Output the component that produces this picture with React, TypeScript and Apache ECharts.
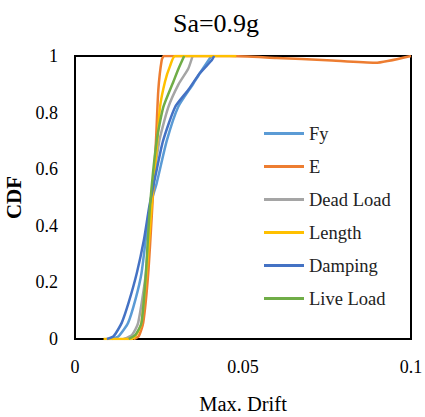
import React, { useEffect, useRef } from "react";
import * as echarts from "echarts";

const seriesNames = ["Fy", "E", "Dead Load", "Length", "Damping", "Live Load"];
const seriesColors = ["#5B9BD5", "#ED7D31", "#A5A5A5", "#FFC000", "#4472C4", "#70AD47"];

const fyData = [[0.011, 0], [0.013, 0.01], [0.0158, 0.057], [0.018, 0.14], [0.0198, 0.233], [0.0223, 0.467], [0.0243, 0.55], [0.0273, 0.7], [0.0307, 0.82], [0.0351, 0.9], [0.0372, 0.94], [0.0406, 1]];
const eData = [[0.0175, 0], [0.019, 0.01], [0.0203, 0.057], [0.0218, 0.233], [0.023, 0.467], [0.0241, 0.7], [0.0248, 0.88], [0.0258, 0.985], [0.0265, 1], [0.046, 1], [0.06, 0.993], [0.075, 0.985], [0.0893, 0.976], [0.1, 1]];
const deadLoadData = [[0.0145, 0], [0.017, 0.015], [0.0188, 0.057], [0.0211, 0.233], [0.0225, 0.467], [0.0251, 0.7], [0.0278, 0.82], [0.0308, 0.9], [0.0337, 0.955], [0.035, 1]];
const lengthData = [[0.0085, 0], [0.0169, 0], [0.0185, 0.02], [0.0198, 0.057], [0.0213, 0.233], [0.0228, 0.467], [0.0245, 0.7], [0.0253, 0.82], [0.0268, 0.91], [0.0283, 0.965], [0.0298, 1], [0.048, 1]];
const dampingData = [[0.0095, 0], [0.0115, 0.01], [0.0139, 0.057], [0.016, 0.13], [0.0184, 0.233], [0.0205, 0.35], [0.0221, 0.467], [0.024, 0.58], [0.0262, 0.7], [0.0298, 0.82], [0.0337, 0.88], [0.0372, 0.94], [0.0407, 0.985], [0.0414, 1]];
const liveLoadData = [[0.016, 0], [0.018, 0.015], [0.0198, 0.057], [0.0211, 0.233], [0.0223, 0.467], [0.0243, 0.7], [0.0263, 0.82], [0.0293, 0.91], [0.0308, 0.955], [0.0325, 1]];

const allData = [fyData, eData, deadLoadData, lengthData, dampingData, liveLoadData];

const xTicks = { min: 0, max: 0.1, interval: 0.05 };
const yTicks = { min: 0, max: 1, interval: 0.2 };

const FONT = "Times New Roman, Liberation Serif, serif";

export default function App() {
  const ref = useRef<HTMLDivElement>(null);
  useEffect(() => {
    if (!ref.current) return;
    const chart = echarts.init(ref.current, null, { renderer: "svg" });
    chart.setOption({
      animation: false,
      backgroundColor: "#ffffff",
      textStyle: { fontFamily: FONT },
      title: {
        text: "Sa=0.9g",
        left: 211,
        top: 5,
        textAlign: "center",
        textStyle: { fontFamily: FONT, fontSize: 26, fontWeight: "normal", color: "#000" },
      },
      grid: {
        left: 75,
        right: 14,
        top: 56,
        bottom: 78,
        containLabel: false,
        outerBoundsMode: "none",
        show: true,
        borderColor: "#000",
        borderWidth: 2,
        backgroundColor: "transparent",
      },
      legend: {
        orient: "vertical",
        left: 259,
        top: 119,
        itemWidth: 40,
        itemHeight: 3,
        itemGap: 14,
        icon: "rect",
        data: seriesNames,
        textStyle: { fontFamily: FONT, fontSize: 18.5, color: "#222" },
      },
      xAxis: {
        type: "value",
        min: xTicks.min,
        max: xTicks.max,
        interval: xTicks.interval,
        name: "Max. Drift",
        nameLocation: "middle",
        nameGap: 54,
        nameTextStyle: { fontFamily: FONT, fontSize: 20.5, color: "#000" },
        axisLine: { show: false },
        axisTick: { show: false },
        splitLine: { show: false },
        axisLabel: { fontFamily: FONT, fontSize: 18, color: "#000", margin: 19 },
      },
      yAxis: {
        type: "value",
        min: yTicks.min,
        max: yTicks.max,
        interval: yTicks.interval,
        name: "CDF",
        nameLocation: "middle",
        nameGap: 50,
        nameTextStyle: { fontFamily: FONT, fontSize: 21, fontWeight: "bold", color: "#000" },
        axisLine: { show: false },
        axisTick: { show: false },
        splitLine: { show: false },
        axisLabel: { fontFamily: FONT, fontSize: 18, color: "#000", margin: 17 },
      },
      series: seriesNames.map((name, i) => ({
        name,
        type: "line",
        data: allData[i],
        showSymbol: false,
        symbol: "none",
        smooth: 0.2,
        color: seriesColors[i],
        lineStyle: { width: 2.5, color: seriesColors[i] },
      })),
    });
    return () => chart.dispose();
  }, []);
  return <div ref={ref} style={{ width: 425, height: 417, position: "absolute", left: 0, top: 0 }} />;
}
